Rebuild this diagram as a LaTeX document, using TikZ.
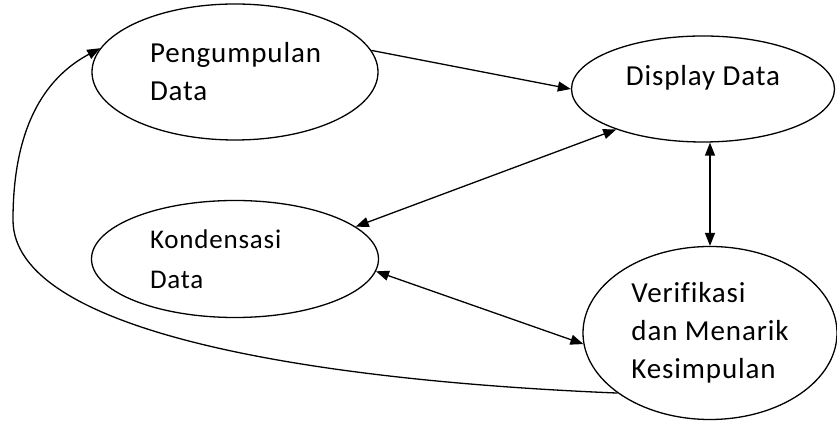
\documentclass[tikz,border=0pt]{standalone}
\usepackage{fontspec}
\setmainfont{Carlito}[Ligatures=NoCommon, LetterSpace=3]
\usepackage{tikz}
\usetikzlibrary{shapes.geometric, arrows.meta}
\tikzstyle{ell} = [ellipse, draw, line width=0.65pt, inner sep=0pt]
\tikzstyle{lefttext} = [text width=85pt, align=left]
\tikzstyle{arrow} = [line width=0.65pt,-{Triangle[length=6.5pt,width=5pt]}]
\tikzstyle{darrow} = [line width=0.65pt,{Triangle[length=6.5pt,width=5pt]}-{Triangle[length=6.5pt,width=5pt]}]

\begin{document}
\begin{tikzpicture}[x=0.5pt, y=-0.5pt, font=\fontsize{14.5}{19}\selectfont]
  \useasboundingbox (0,0) rectangle (837,421);

  \node (pd) [ell, lefttext, minimum width=143pt, minimum height=68pt] at (235,72) {Pengumpulan\\Data};
  \node (dd) [ell, minimum width=131.5pt, minimum height=53pt, text depth=14pt] at (703,89) {Display Data};
  \node (kd) [ell, lefttext, minimum width=143.5pt, minimum height=58.5pt, font=\fontsize{13.5}{20}\selectfont] at (235,259) {Kondensasi\\Data};
  \node (vk) [ell, align=left, minimum width=127pt, minimum height=86.5pt] at (710,333) {Verifikasi\\dan Menarik\\Kesimpulan};

  \draw [arrow] (pd.9) -- (dd.west);
  \draw [darrow] (dd.205) -- (kd.15);
  \draw [darrow] (vk.north) -- (vk.north |- dd.south);
  \draw [darrow] (kd.355) -- (vk.185);
  \draw [arrow] (vk.213) .. controls (300,380) and (13,330) .. (13,220)
    .. controls (13,120) and (50,75) .. (pd.170);
\end{tikzpicture}
\end{document}
